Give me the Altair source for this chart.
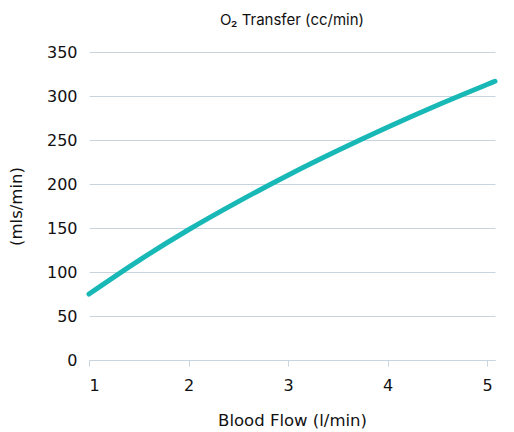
import altair as alt
import pandas as pd

flow = [1.0, 1.5, 2.0, 2.5, 3.0, 3.5, 4.0, 4.5, 5.0, 5.08]
o2 = [75, 113, 148, 180, 210, 238, 264.5, 289.5, 313, 316.7]

df = pd.DataFrame({"flow": flow, "o2": o2})

FONT = "DejaVu Sans"
GRID = "#c8d5df"

chart = alt.Chart(df).mark_line(
    color="#17b8b6", strokeWidth=5, interpolate="monotone", strokeCap="round"
).encode(
    x=alt.X("flow:Q", title="Blood Flow (l/min)",
            scale=alt.Scale(domain=[1, 5.08], nice=False, zero=False),
            axis=alt.Axis(values=[1, 2, 3, 4, 5], format="d", grid=False,
                          domainColor=GRID, tickColor=GRID, tickSize=6,
                          labelPadding=11, titlePadding=19)),
    y=alt.Y("o2:Q", title="(mls/min)",
            scale=alt.Scale(domain=[0, 350], nice=False),
            axis=alt.Axis(values=[0, 50, 100, 150, 200, 250, 300, 350], grid=True,
                          gridColor=GRID, domain=False, ticks=False,
                          labelPadding=12, titlePadding=22)),
).properties(
    width=497, height=421,
    autosize=alt.AutoSizeParams(type="fit", contains="padding"),
    padding={"left": 0, "top": 5, "right": 0, "bottom": 0},
    title=alt.Title("O₂ Transfer (cc/min)", fontSize=15, fontWeight="normal",
                    color="#111111", offset=16, font="Inter"),
).configure_axis(
    labelFont=FONT, titleFont=FONT, labelFontSize=16, titleFontSize=16.5,
    labelColor="#111111", titleColor="#111111", titleFontWeight="normal",
).configure_view(stroke=None)

chart.save("out.html", embed_options={"renderer": "svg", "actions": False})
